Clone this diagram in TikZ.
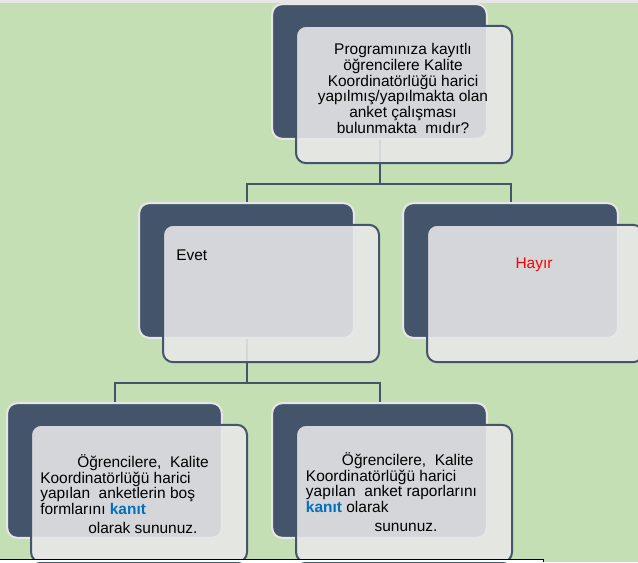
\documentclass[tikz,border=0pt]{standalone}
\usepackage{fontspec}
\setmainfont{Liberation Sans}
\usetikzlibrary{positioning}
\definecolor{zemin}{HTML}{C5DFB4}
\definecolor{lacivert}{HTML}{44546A}
\definecolor{kenar}{HTML}{E6E6E6}
\definecolor{kagit}{HTML}{E7E7E7}
\definecolor{kanitmavi}{HTML}{0070C0}
\newcommand{\kanit}{{\color{kanitmavi}\bfseries kanıt}}
\tikzset{
	arka/.style = {draw=kenar, line width=1.5pt, fill=lacivert, rounded corners=7.5pt,
		minimum width=161pt, minimum height=101pt},
	on/.style = {draw=lacivert, line width=1.5pt, fill=kagit, fill opacity=0.89,
		rounded corners=7.5pt, minimum width=162pt, minimum height=103pt},
	yazi/.style = {inner sep=0pt, font=\fontsize{11.6}{11.9}\selectfont},
	baglanti/.style = {draw=lacivert, line width=1.5pt}
}

\begin{document}
\begin{tikzpicture}[x=0.75pt,y=-0.75pt]
    \fill [zemin] (0,0) rectangle (638,562);
    \fill [kenar] (0,0) rectangle (638,2.5);
    \useasboundingbox (0,0) rectangle (638,562);

    % arka kutular
    \node [arka] (soru) at (379.5,71.5) {};
    \node [arka] (evet) at (246.5,270.5) {};
    \node [arka] (hayir) at (510.5,270.5) {};
    \node [arka] (bos) at (114.5,470.5) {};
    \node [arka] (rapor) at (379.5,470.5) {};

    \draw [baglanti] (soru.south) -- ++(0,44) -| (evet.north);
    \draw [baglanti] (soru.south) -- ++(0,44) -| (hayir.north);
    \draw [baglanti] (evet.south) -- ++(0,44) -| (bos.north);
    \draw [baglanti] (evet.south) -- ++(0,44) -| (rapor.north);

    % on kutular
    \node [on, on grid, below right=17.25pt and 18.4pt of soru] (soruon) {};
    \node [on, on grid, below right=17.25pt and 18.4pt of evet] (eveton) {};
    \node [on, on grid, below right=17.25pt and 18.4pt of hayir] (hayiron) {};
    \node [on, on grid, below right=17.25pt and 18.4pt of bos] (boson) {};
    \node [on, on grid, below right=17.25pt and 18.4pt of rapor] (raporon) {};

    \node [yazi, align=center] (sorumetin) at (403,88.5) {Programınıza kayıtlı\\ öğrencilere Kalite\\ Koordinatörlüğü harici\\ yapılmış/yapılmakta olan\\ anket çalışması\\ bulunmakta\ \ mıdır?};
    \node [yazi, anchor=base west] (evetmetin) at (176,260) {Evet};
    \node [yazi, anchor=base, text=red] (hayirmetin) at (534,268) {Hayır};
    \node [yazi, align=left, anchor=north west] (bosmetin) at (40,454) {\hspace*{27.75pt}Öğrencilere,\ \ Kalite\\ Koordinatörlüğü harici\\ yapılan\ \ anketlerin boş\\ formlarını \kanit\\[2pt] \hspace*{36pt}olarak sununuz.};
    \node [yazi, align=left, anchor=north west] (rapormetin) at (305.7,452) {\hspace*{27pt}Öğrencilere,\ \ Kalite\\ Koordinatörlüğü harici\\ yapılan\ \ anket raporlarını\\ \kanit\ olarak\\[2pt] \hspace*{51.5pt}sununuz.};

    \fill [white] (0,559.5) rectangle (543,562);
    \draw [black, line width=0.75pt] (0,559.5) -- (543,559.5) -- (543,562);
\end{tikzpicture}
\end{document}
